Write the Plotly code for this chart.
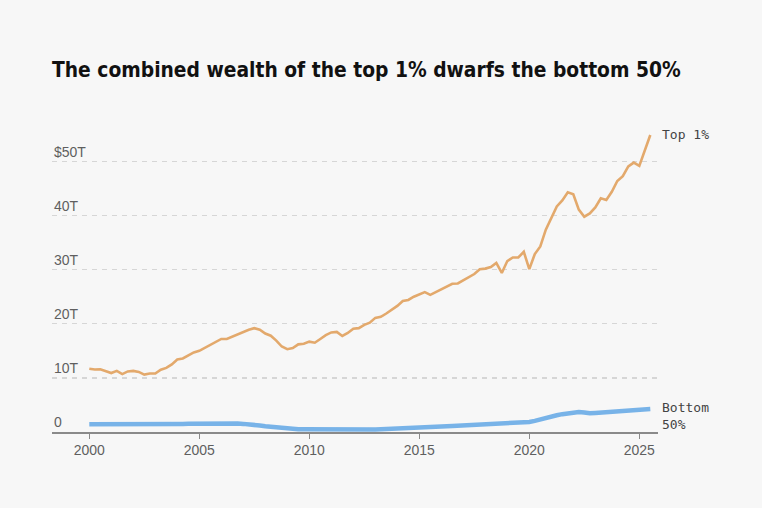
import plotly.graph_objects as go

# ---- data (quarterly, 2000 Q1 .. 2025 Q3), trillions of USD ----
start_year = 2000
top1 = [11.7, 11.55, 11.6, 11.25, 10.9, 11.3, 10.7, 11.2, 11.3, 11.1, 10.6, 10.8,
        10.8, 11.5, 11.85, 12.5, 13.4, 13.6, 14.1, 14.7, 15.0, 15.55, 16.05, 16.5,
        17.2, 17.2, 17.65, 18.15, 18.55, 18.9, 19.2, 18.9, 18.2, 17.8, 16.9, 15.8,
        15.3, 15.5, 16.2, 16.3, 16.7, 16.5, 17.2, 17.9, 18.4, 18.5, 17.75, 18.3,
        19.1, 19.2, 19.8, 20.2, 21.1, 21.3, 21.9, 22.6, 23.3, 24.2, 24.4, 25.0,
        25.5, 25.85, 25.35, 25.85, 26.3, 26.8, 27.4, 27.45, 28.05, 28.7, 29.2, 30.1,
        30.2, 30.5, 31.25, 29.4, 31.6, 32.25, 32.25, 33.3, 30.1, 32.9, 34.3, 37.4,
        39.5, 41.7, 42.8, 44.3, 43.95, 41.1, 39.8, 40.4, 41.5, 43.2, 42.9, 44.4,
        46.4, 47.3, 49.1, 49.8, 49.2, 52.0, 54.9]
bottom50 = [1.42, 1.42, 1.41, 1.40, 1.39, 1.38, 1.37, 1.36, 1.35, 1.34, 1.30, 1.31,
            1.33, 1.36, 1.40, 1.45, 1.48, 1.50, 1.52, 1.54, 1.56, 1.60, 1.63, 1.62,
            1.62, 1.60, 1.58, 1.55, 1.50, 1.45, 1.35, 1.20, 1.05, 0.95, 0.82, 0.65,
            0.57, 0.55, 0.53, 0.52, 0.50, 0.48, 0.46, 0.45, 0.44, 0.43, 0.43, 0.42,
            0.42, 0.43, 0.44, 0.45, 0.47, 0.50, 0.53, 0.57, 0.62, 0.68, 0.74, 0.80,
            0.86, 0.90, 0.93, 0.97, 1.00, 1.05, 1.10, 1.15, 1.20, 1.25, 1.30, 1.35,
            1.40, 1.45, 1.50, 1.50, 1.58, 1.65, 1.72, 1.80, 1.85, 2.05, 2.35, 2.60,
            2.85, 3.10, 3.30, 3.50, 3.62, 3.70, 3.60, 3.45, 3.52, 3.60, 3.62, 3.65,
            3.75, 3.80, 3.85, 3.92, 4.00, 4.10, 4.25]
x_tick_vals = [2000, 2005, 2010, 2015, 2020, 2025]
y_tick_vals = [0, 10, 20, 30, 40, 50]
y_tick_text = ["0", "10T", "20T", "30T", "40T", "$50T"]
title_text = "The combined wealth of the top 1% dwarfs the bottom 50%"

dates = [start_year + i / 4 for i in range(len(top1))]

BG = "#f7f7f7"
ORANGE = "#e3a96c"
BLUE = "#78b3e8"
GREY = "#5f5f5f"

fig = go.Figure()
fig.add_trace(go.Scatter(x=dates, y=top1, mode="lines", name="Top 1%",
                         line=dict(color=ORANGE, width=2.6), hoverinfo="skip"))
fig.add_trace(go.Scatter(x=dates, y=bottom50, mode="lines", name="Bottom 50%",
                         line=dict(color=BLUE, width=4.5), hoverinfo="skip"))

annotations = []
for v, t in zip(y_tick_vals, y_tick_text):
    annotations.append(dict(x=0, xref="paper", y=v, yref="y", text=t,
                            xanchor="left", yanchor="bottom", yshift=0,
                            showarrow=False,
                            font=dict(family="Liberation Sans", size=14, color=GREY)))

annotations.append(dict(x=1, xref="paper", y=top1[-1], yref="y", text="Top 1%",
                        xanchor="left", yanchor="middle", xshift=2, showarrow=False,
                        font=dict(family="DejaVu Sans Mono", size=13, color="#444444")))
annotations.append(dict(x=1, xref="paper", y=bottom50[-1], yref="y", text="Bottom<br>50%",
                        xanchor="left", yanchor="top", align="left", xshift=2, yshift=11,
                        showarrow=False,
                        font=dict(family="DejaVu Sans Mono", size=13, color="#444444")))

fig.update_layout(
    width=762, height=508,
    paper_bgcolor=BG, plot_bgcolor=BG,
    margin=dict(l=52, r=104, t=120, b=76),
    showlegend=False,
    title=dict(text="<b>" + title_text + "</b>", xref="container", yref="container",
               x=52 / 762, xanchor="left", y=1 - 70 / 508, yanchor="middle",
               font=dict(family="DejaVu Sans Condensed", size=20.8, color="#111111")),
    xaxis=dict(range=[1998.305, 2025.85], tickvals=x_tick_vals,
               showgrid=False, zeroline=False,
               showline=True, linecolor="#8a8a8a", linewidth=1.5,
               ticks="outside", ticklen=5, tickwidth=1.2, tickcolor="#8a8a8a",
               tickfont=dict(family="Liberation Sans", size=14, color=GREY)),
    yaxis=dict(range=[0, 57.67], tickvals=y_tick_vals[1:], showticklabels=False,
               showgrid=True, gridcolor="#d6d6d6", gridwidth=1.4, griddash="5px,5px",
               zeroline=False, showline=False, ticks=""),
    annotations=annotations,
)

fig.write_html("out.html", config={"displayModeBar": False, "staticPlot": True},
               post_script="document.body.style.margin='0';")
